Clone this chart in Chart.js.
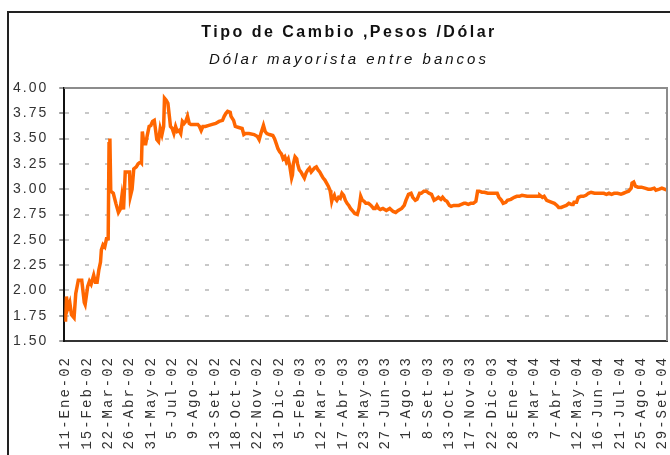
<!DOCTYPE html>
<html>
<head>
<meta charset="utf-8">
<script src="https://cdn.jsdelivr.net/npm/chart.js@4.4.1/dist/chart.umd.min.js"></script>
<style>
  body { margin: 0; background: #fff; width: 670px; height: 455px; overflow: hidden; position: relative; }
  #marco { position: absolute; left: 7px; top: 11px; width: 700px; height: 500px; border-left: 2px solid #222; border-top: 2px solid #222; }
  #grafico { position: absolute; left: 0; top: 0; }
  .titulo { position: absolute; left: 0; width: 698px; text-align: center; font-family: 'Liberation Sans', Arial, sans-serif; color: #111; white-space: nowrap; }
  #titulo { top: 24px; font-size: 16px; line-height: 16px; font-weight: bold; letter-spacing: 2.5px; }
  #subtitulo { top: 51px; font-size: 15px; line-height: 15px; font-style: italic; letter-spacing: 3px; }
</style>
</head>
<body>
<div id="marco"></div>
<canvas id="grafico" width="670" height="455"></canvas>
<div class="titulo" id="titulo">Tipo de Cambio ,Pesos /Dólar</div>
<div class="titulo" id="subtitulo">Dólar mayorista entre bancos</div>
<script>
// etiquetas del eje X (una cada 25 días hábiles)
const etiquetasX = ['11-Ene-02', '15-Feb-02', '22-Mar-02', '26-Abr-02', '31-May-02', '5-Jul-02',
    '9-Ago-02', '13-Set-02', '18-Oct-02', '22-Nov-02', '31-Dic-02', '5-Feb-03', '12-Mar-03',
    '17-Abr-03', '23-May-03', '27-Jun-03', '1-Ago-03', '8-Set-03', '13-Oct-03', '17-Nov-03',
    '22-Dic-03', '28-Ene-04', '3-Mar-04', '7-Abr-04', '12-May-04', '16-Jun-04', '21-Jul-04',
    '25-Ago-04', '29-Set-04'];
const diasPorEtiqueta = 25;

// eje Y
const ticksY = [1.50, 1.75, 2.00, 2.25, 2.50, 2.75, 3.00, 3.25, 3.50, 3.75, 4.00];

// serie: día hábil (desde 11-Ene-02) y tipo de cambio
const diaHabil = [0, 1, 3, 5, 7, 10, 12, 15, 19, 22, 23, 26, 28, 30, 33, 35, 37, 39, 41, 42,
    44, 46, 48, 50, 51, 52, 53, 56, 59, 62, 64, 66, 68, 70, 73, 75, 76, 78, 80, 83,
    85, 88, 89, 90, 92, 94, 96, 98, 100, 102, 104, 105, 107, 109, 111, 113, 115, 116, 118, 120,
    122, 123, 125, 127, 129, 131, 133, 135, 137, 139, 141, 143, 145, 147, 151, 155, 157, 159, 161, 164,
    168, 172, 176, 180, 184, 186, 188, 190, 193, 194, 197, 199, 203, 207, 209, 211, 215, 221, 225, 227,
    229, 232, 234, 236, 239, 243, 245, 247, 249, 251, 253, 255, 257, 259, 261, 263, 265, 266, 267, 269,
    271, 272, 274, 276, 278, 280, 282, 284, 286, 288, 290, 292, 294, 296, 298, 300, 302, 304, 306, 308,
    310, 311, 312, 313, 315, 316, 318, 320, 322, 324, 326, 328, 330, 332, 334, 337, 339, 342, 344, 346,
    348, 350, 352, 355, 358, 361, 363, 365, 367, 369, 372, 376, 380, 384, 387, 390, 394, 397, 399, 402,
    405, 407, 410, 412, 415, 417, 420, 423, 426, 429, 432, 434, 437, 440, 442, 445, 447, 450, 452, 455,
    458, 461, 464, 467, 469, 472, 475, 478, 481, 483, 485, 488, 491, 495, 499, 503, 506, 508, 511, 513,
    516, 518, 522, 526, 529, 532, 535, 541, 544, 548, 552, 555, 556, 559, 561, 564, 567, 570, 573, 576,
    578, 581, 584, 587, 590, 593, 595, 596, 599, 601, 604, 607, 610, 613, 616, 620, 624, 628, 631, 634,
    637, 640, 643, 647, 651, 654, 657, 660, 663, 664, 666, 668, 671, 675, 679, 683, 686, 690, 692, 696,
    699, 702, 705];
const tipoCambio = [1.69, 1.94, 1.83, 1.88, 1.76, 1.73, 1.97, 2.10, 2.10, 1.88, 1.86, 2.04, 2.09, 2.06, 2.15, 2.08, 2.08, 2.20, 2.28, 2.40,
    2.45, 2.43, 2.51, 2.51, 3.45, 3.50, 2.98, 2.96, 2.86, 2.77, 2.80, 2.93, 2.80, 3.17, 3.17, 3.17, 2.93, 3.00, 3.20, 3.22,
    3.25, 3.27, 3.26, 3.57, 3.45, 3.45, 3.54, 3.62, 3.63, 3.67, 3.68, 3.62, 3.49, 3.47, 3.60, 3.54, 3.62, 3.90, 3.88, 3.85,
    3.70, 3.62, 3.60, 3.55, 3.62, 3.57, 3.58, 3.55, 3.67, 3.65, 3.67, 3.72, 3.65, 3.64, 3.64, 3.64, 3.62, 3.58, 3.62, 3.62,
    3.63, 3.64, 3.65, 3.67, 3.68, 3.72, 3.75, 3.77, 3.76, 3.72, 3.68, 3.62, 3.61, 3.60, 3.54, 3.55, 3.55, 3.54, 3.52, 3.49,
    3.55, 3.63, 3.57, 3.55, 3.54, 3.53, 3.50, 3.45, 3.40, 3.37, 3.35, 3.30, 3.32, 3.27, 3.30, 3.22, 3.11, 3.14, 3.25, 3.32,
    3.30, 3.25, 3.19, 3.17, 3.14, 3.11, 3.16, 3.19, 3.21, 3.17, 3.19, 3.21, 3.22, 3.19, 3.17, 3.14, 3.11, 3.09, 3.06, 3.03,
    2.99, 2.94, 2.88, 2.91, 2.94, 2.91, 2.89, 2.92, 2.91, 2.96, 2.94, 2.89, 2.86, 2.84, 2.81, 2.78, 2.76, 2.75, 2.81, 2.93,
    2.89, 2.88, 2.86, 2.86, 2.84, 2.81, 2.81, 2.84, 2.81, 2.80, 2.81, 2.79, 2.81, 2.78, 2.77, 2.79, 2.81, 2.84, 2.89, 2.95,
    2.96, 2.92, 2.89, 2.90, 2.96, 2.96, 2.98, 2.98, 2.96, 2.95, 2.89, 2.90, 2.92, 2.90, 2.92, 2.89, 2.88, 2.84, 2.83, 2.84,
    2.84, 2.84, 2.85, 2.86, 2.86, 2.85, 2.86, 2.86, 2.88, 2.98, 2.98, 2.97, 2.97, 2.96, 2.96, 2.96, 2.96, 2.92, 2.89, 2.86,
    2.87, 2.89, 2.90, 2.92, 2.93, 2.93, 2.94, 2.93, 2.93, 2.93, 2.93, 2.93, 2.94, 2.92, 2.93, 2.89, 2.88, 2.87, 2.86, 2.84,
    2.82, 2.82, 2.83, 2.84, 2.86, 2.85, 2.85, 2.87, 2.87, 2.92, 2.93, 2.93, 2.94, 2.96, 2.97, 2.96, 2.96, 2.96, 2.96, 2.95,
    2.96, 2.95, 2.96, 2.96, 2.95, 2.96, 2.97, 2.98, 3.01, 3.06, 3.07, 3.03, 3.02, 3.02, 3.01, 3.00, 3.00, 3.01, 2.99, 3.00,
    3.01, 3.00, 2.99];

// espaciado de letras para los textos del canvas
const espaciado = {
    id: 'espaciado',
    beforeUpdate(chart) { chart.ctx.letterSpacing = '2px'; },
    beforeDraw(chart) { chart.ctx.letterSpacing = '2px'; }
};

// borde gris arriba y a la derecha del área de trazado
const bordeArea = {
    id: 'bordeArea',
    afterDatasetsDraw(chart) {
        const { ctx, chartArea: a } = chart;
        ctx.save();
        ctx.strokeStyle = '#8c8c8c';
        ctx.lineWidth = 2;
        ctx.beginPath();
        ctx.moveTo(a.left, a.top);
        ctx.lineTo(a.right, a.top);
        ctx.lineTo(a.right, a.bottom);
        ctx.stroke();
        ctx.restore();
    }
};

const ctx = document.getElementById('grafico').getContext('2d');
new Chart(ctx, {
    type: 'line',
    data: {
        datasets: [{
            data: diaHabil.map((d, i) => ({ x: d, y: tipoCambio[i] })),
            borderColor: '#ff6600',
            borderWidth: 3.5,
            pointRadius: 0,
            tension: 0,
            fill: false
        }]
    },
    options: {
        responsive: false,
        animation: false,
        events: [],
        layout: { padding: { left: 2, top: 88, right: 3, bottom: 0 } },
        plugins: { legend: { display: false }, tooltip: { enabled: false } },
        scales: {
            x: {
                type: 'linear',
                min: -1.5,
                max: 705,
                afterBuildTicks: (scale) => {
                    scale.ticks = etiquetasX.map((_, k) => ({ value: k * diasPorEtiqueta }));
                },
                // el alto del eje y sin margen extra para la última etiqueta
                afterFit: (scale) => {
                    scale.height = 114;
                    scale.paddingLeft = 0;
                    scale.paddingRight = 0;
                },
                grid: { display: true, drawOnChartArea: false, drawTicks: false },
                border: { color: '#333', width: 2 },
                ticks: {
                    autoSkip: false,
                    minRotation: 90,
                    maxRotation: 90,
                    padding: 15,
                    color: '#333',
                    font: { family: "'Liberation Mono', monospace", size: 14 },
                    callback: (v, i) => etiquetasX[i]
                }
            },
            y: {
                min: 1.5,
                max: 4,
                afterBuildTicks: (scale) => {
                    scale.ticks = ticksY.map(v => ({ value: v }));
                },
                grid: { color: '#c8c8c8', lineWidth: 2, tickLength: 5, tickColor: '#333', tickWidth: 1 },
                border: { color: '#111', width: 2, dash: [4, 16] },
                ticks: {
                    padding: 11,
                    color: '#333',
                    font: { family: "'Liberation Sans', Arial, sans-serif", size: 14 },
                    callback: (v) => v.toFixed(2)
                }
            }
        }
    },
    plugins: [espaciado, bordeArea]
});
</script>
</body>
</html>
